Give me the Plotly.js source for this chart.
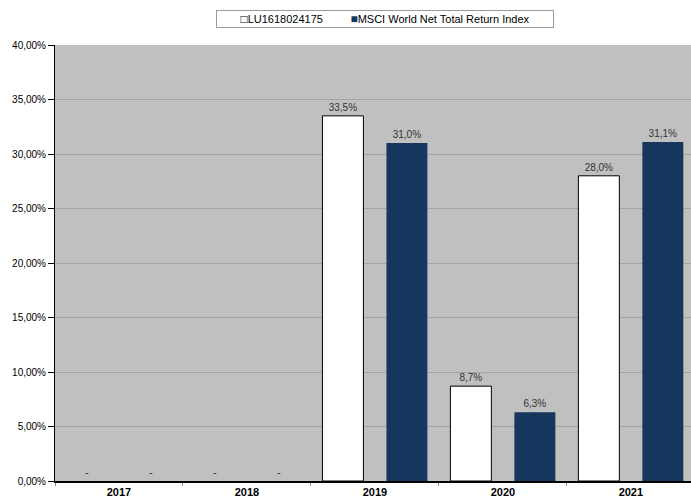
<!DOCTYPE html>
<html>
<head>
<meta charset="utf-8">
<script src="https://cdn.plot.ly/plotly-3.0.1.min.js"></script>
<style>html,body{margin:0;padding:0;overflow:hidden;background:#fff}</style>
</head>
<body>
<div id="chart" style="width:691px;height:498px"></div>
<script>
const years = ['2017', '2018', '2019', '2020', '2021'];
const fundName = 'LU1618024175';
const indexName = 'MSCI World Net Total Return Index';
const fundValues = [0, 0, 33.5, 8.7, 28.0];
const indexValues = [0, 0, 31.0, 6.3, 31.1];
const hasData = [false, false, true, true, true];
const yTickVals = [0, 5, 10, 15, 20, 25, 30, 35, 40];

function fmt(v, i) {
  return hasData[i] ? v.toFixed(1).replace('.', ',') + '%' : '-';
}
const yTickText = yTickVals.map(v => v.toFixed(2).replace('.', ',') + '%');
const navy = '#17365d';

const labelFont = {family: 'Liberation Sans, Arial, sans-serif', size: 10, color: '#333333'};

const traces = [
  {
    type: 'bar', name: fundName, x: years, y: fundValues,
    text: fundValues.map(fmt), textposition: 'outside', textfont: labelFont,
    marker: {color: '#ffffff', line: {color: '#000000', width: hasData.map(h => h ? 1 : 0)}},
    cliponaxis: false, hoverinfo: 'x+y'
  },
  {
    type: 'bar', name: indexName, x: years, y: indexValues,
    text: indexValues.map(fmt), textposition: 'outside', textfont: labelFont,
    marker: {color: navy, line: {color: navy, width: 0}},
    cliponaxis: false, hoverinfo: 'x+y'
  }
];

const layout = {
  width: 691, height: 498,
  margin: {l: 55, r: 0, t: 45, b: 17, pad: 0},
  paper_bgcolor: '#ffffff', plot_bgcolor: '#c0c0c0',
  font: {family: 'Liberation Sans, Arial, sans-serif', size: 10, color: '#000'},
  showlegend: false,
  barmode: 'group', bargap: 0, bargroupgap: 0.36,
  xaxis: {
    type: 'category', range: [-0.5, 4.47], fixedrange: true,
    showline: true, linecolor: '#000', linewidth: 2,
    ticks: 'outside', tickson: 'boundaries', ticklen: 3, tickcolor: '#888',
    tickfont: {family: 'Liberation Sans, Arial, sans-serif', size: 11, color: '#000', weight: 'bold'},
    showgrid: false
  },
  yaxis: {
    range: [0, 40], fixedrange: true,
    tickvals: yTickVals, ticktext: yTickText,
    showline: true, linecolor: '#000', linewidth: 1,
    ticks: 'outside', ticklen: 6, tickcolor: '#000',
    tickfont: {family: 'Liberation Sans, Arial, sans-serif', size: 10, color: '#000'},
    showgrid: true, gridcolor: '#a3a3a3', gridwidth: 1, zeroline: false
  },
  annotations: [{
    xref: 'paper', yref: 'paper', x: 0.5189, y: 1.0596,
    xanchor: 'center', yanchor: 'middle', showarrow: false,
    width: 334, height: 14, borderpad: 1,
    bgcolor: '#ffffff', bordercolor: '#999999', borderwidth: 1,
    font: {family: 'Liberation Sans, Arial, sans-serif', size: 11, color: '#000'},
    text: '<span style="font-size:12px">□</span>' + fundName +
          '\u00a0\u00a0\u00a0\u00a0\u00a0\u00a0\u00a0\u00a0\u00a0' +
          '<span style="color:' + navy + ';font-size:12px">■</span>' + indexName
  }]
};

Plotly.newPlot('chart', traces, layout, {staticPlot: true, displayModeBar: false});
</script>
</body>
</html>
